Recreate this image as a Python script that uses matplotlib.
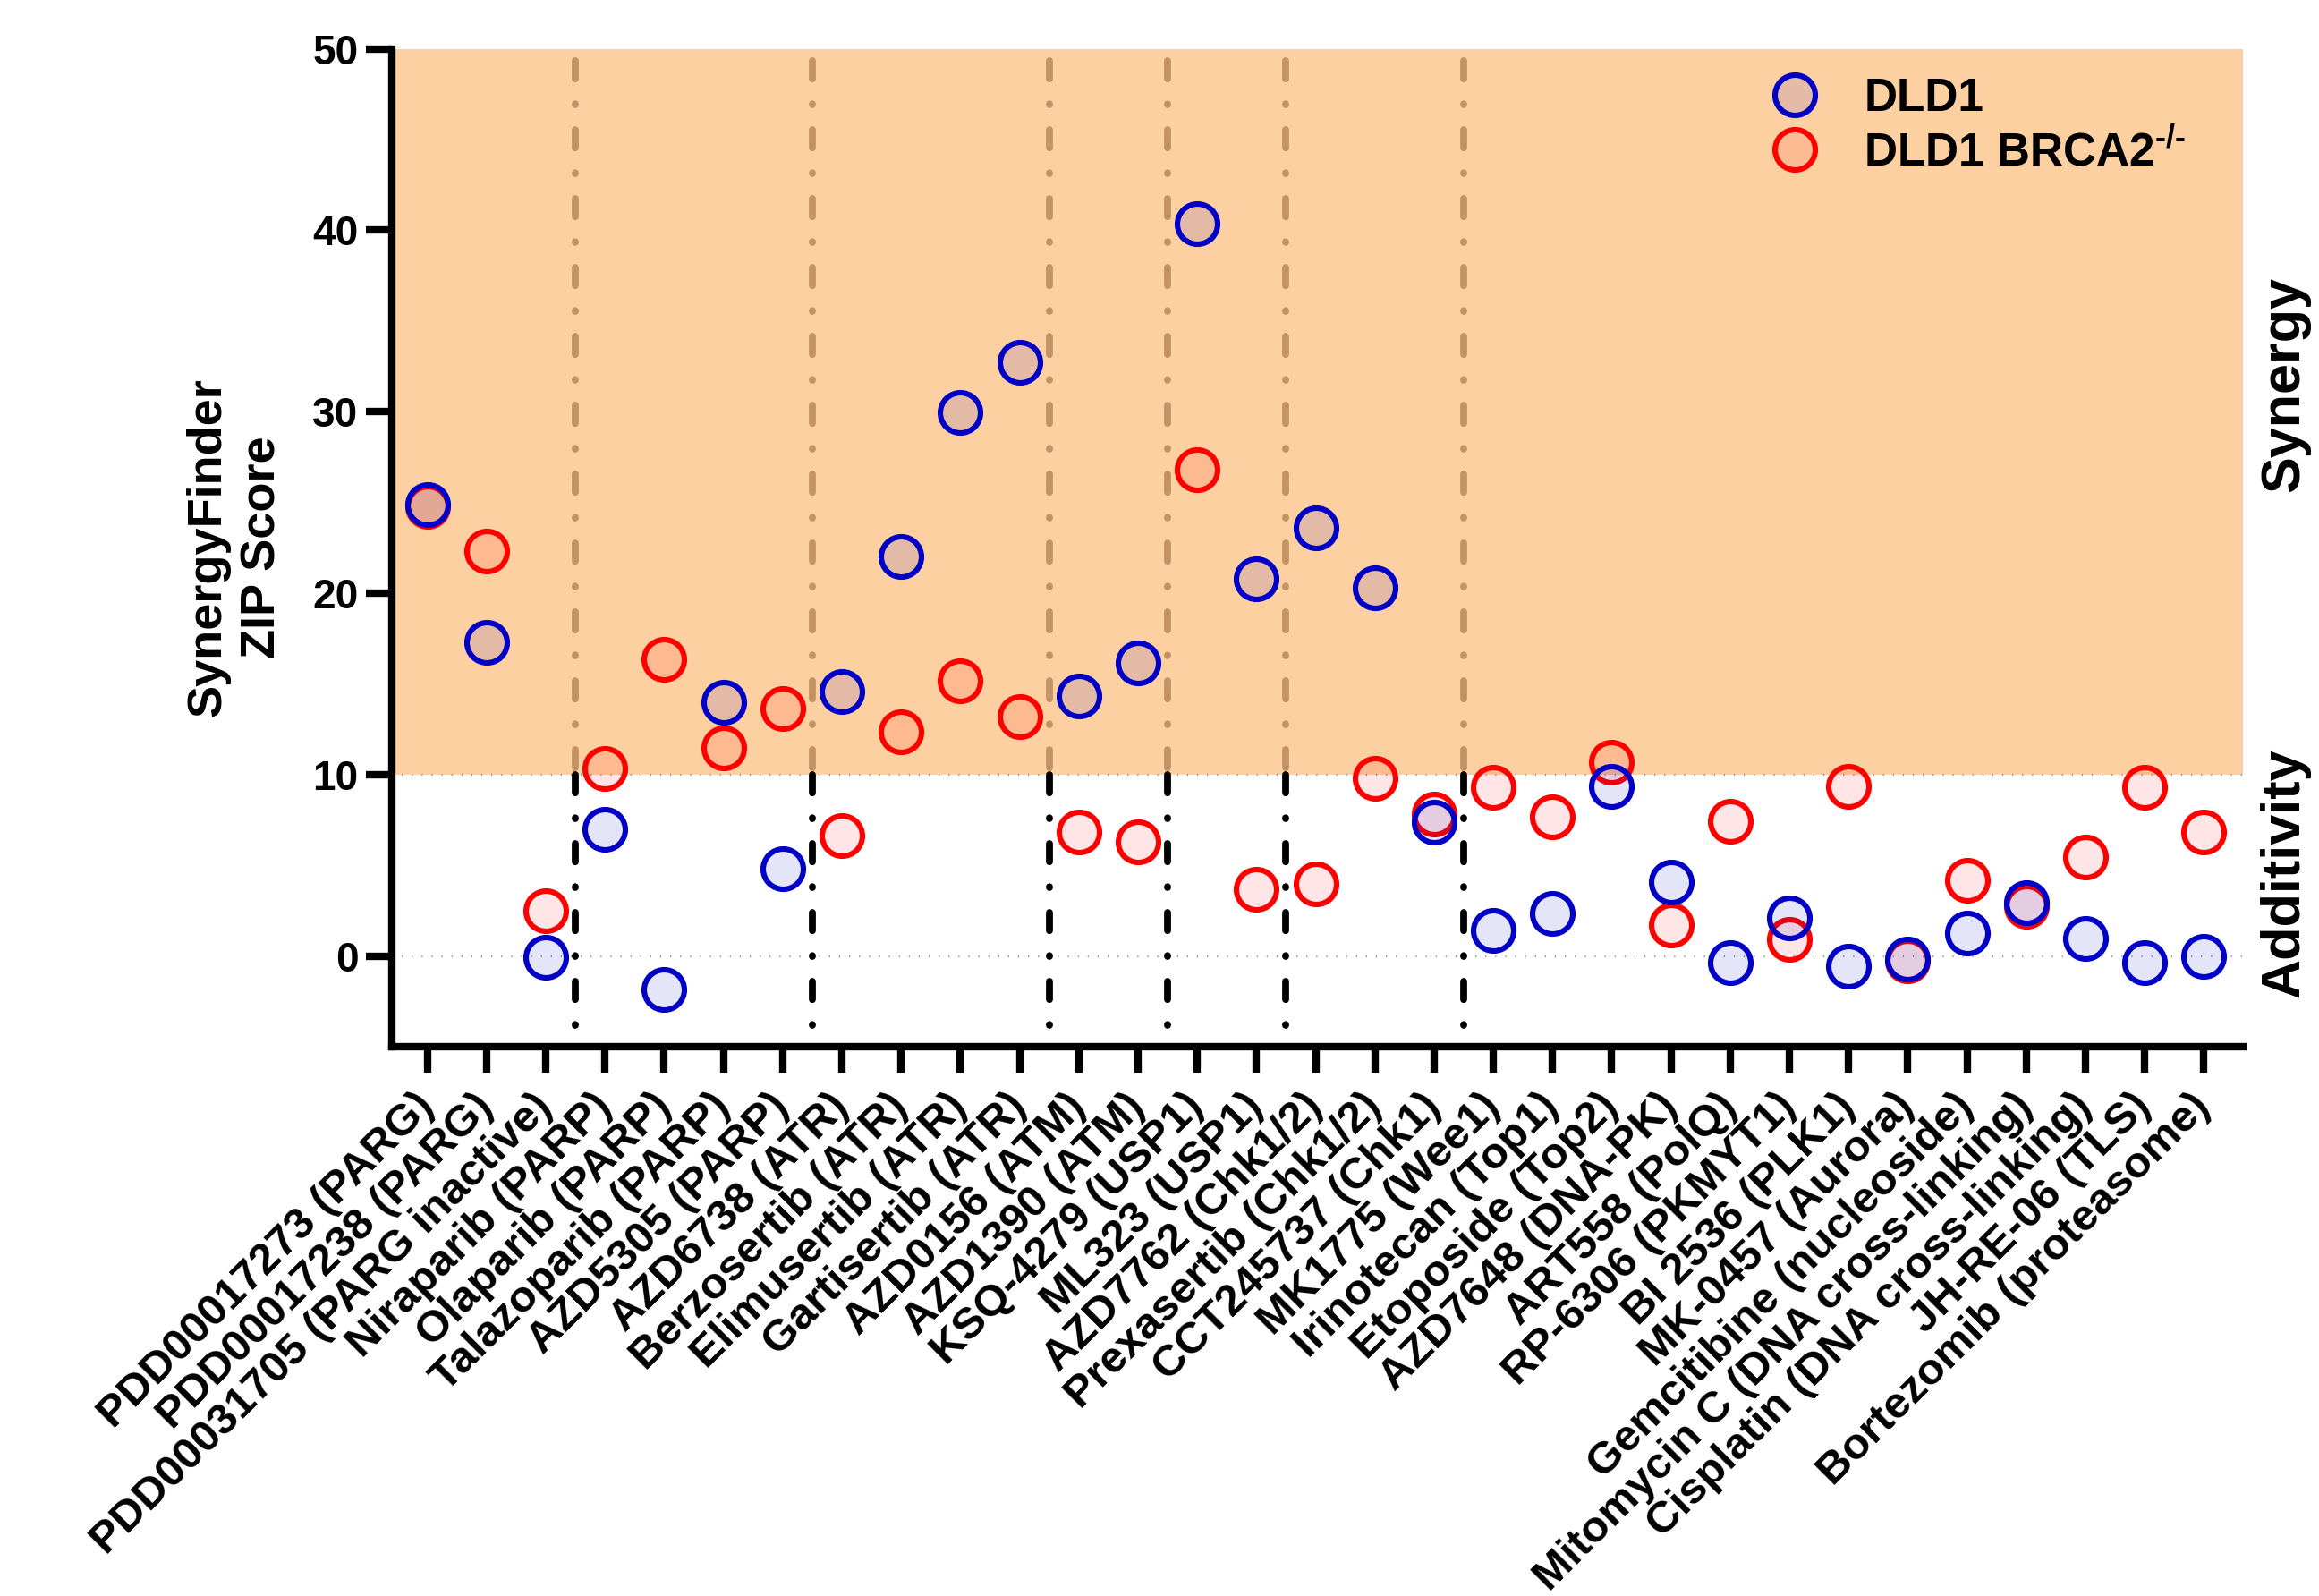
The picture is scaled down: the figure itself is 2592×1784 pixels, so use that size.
import matplotlib
matplotlib.use("Agg")
import matplotlib.pyplot as plt
from matplotlib.lines import Line2D
import matplotlib.transforms as mtransforms

# ---------------- data ----------------
drugs = [
    "PDD00017273 (PARG)", "PDD00017238 (PARG)", "PDD00031705 (PARG inactive)",
    "Niraparib (PARP)", "Olaparib (PARP)", "Talazoparib (PARP)", "AZD5305 (PARP)",
    "AZD6738 (ATR)", "Berzosertib (ATR)", "Elimusertib (ATR)", "Gartisertib (ATR)",
    "AZD0156 (ATM)", "AZD1390 (ATM)", "KSQ-4279 (USP1)", "ML323 (USP1)",
    "AZD7762 (Chk1/2)", "Prexasertib (Chk1/2)", "CCT245737 (Chk1)", "MK1775 (Wee1)",
    "Irinotecan (Top1)", "Etoposide (Top2)", "AZD7648 (DNA-PK)", "ART558 (PolQ)",
    "RP-6306 (PKMYT1)", "BI 2536 (PLK1)", "MK-0457 (Aurora)",
    "Gemcitibine (nucleoside)", "Mitomycin C (DNA cross-linking)",
    "Cisplatin (DNA cross-linking)", "JH-RE-06 (TLS)", "Bortezomib (proteasome)",
]
dld1 = [24.9, 17.3, -0.06, 7.0, -1.83, 14.0, 4.81, 14.58, 22.04, 29.96, 32.74,
        14.34, 16.15, 40.34, 20.79, 23.58, 20.28, 7.36, 1.42, 2.36, 9.34, 4.06,
        -0.38, 2.11, -0.57, -0.19, 1.26, 2.92, 0.94, -0.38, 0.0]
brca2 = [24.8, 22.32, 2.49, 10.34, 16.36, 11.47, 13.62, 6.64, 12.36, 15.19, 13.17,
         6.85, 6.28, 26.79, 3.66, 3.98, 9.81, 7.83, 9.30, 7.68, 10.66, 1.70,
         7.42, 0.91, 9.34, -0.28, 4.15, 2.74, 5.47, 9.28, 6.85]
group_boundaries = [2.5, 6.5, 10.5, 12.5, 14.5, 17.5]
synergy_threshold = 10
y_ticks = [0, 10, 20, 30, 40, 50]

# ---------------- style ----------------
plt.rcParams['font.family'] = ['Liberation Sans', 'DejaVu Sans']
plt.rcParams['font.weight'] = 'bold'
plt.rcParams['mathtext.fontset'] = 'custom'
plt.rcParams['mathtext.rm'] = 'Liberation Sans:bold'
plt.rcParams['mathtext.bf'] = 'Liberation Sans:bold'
plt.rcParams['mathtext.it'] = 'Liberation Sans:bold'

BLUE = (0.0, 0.0, 0.78)
RED = (1.0, 0.0, 0.0)
ORANGE = '#FDD0A2'
TAN = '#C39364'

fig = plt.figure(figsize=(12.96, 8.92), dpi=200)
ax = fig.add_axes([0.169, 0.3442, 0.9672 - 0.169, 0.9694 - 0.3442])

x = list(range(len(drugs)))
ax.set_xlim(-0.6, 30.66)
ax.set_ylim(-5, 50)

# synergy region
ax.axhspan(synergy_threshold, 50, color=ORANGE, zorder=0, lw=0)
# dotted reference lines
for yv in (0, synergy_threshold):
    ax.axhline(yv, color='#8f8f8f', lw=0.8, dashes=(0.5, 4.5), zorder=1)

# group separators
dash = (2.6, 3.6, 0.1, 3.6)
for b in group_boundaries:
    ax.plot([b, b], [49.35, synergy_threshold], color=TAN, lw=2.8, dashes=dash,
            dash_capstyle='round', zorder=2)
    ax.plot([b, b], [synergy_threshold, -4.0], color='black', lw=2.8, dashes=dash,
            dash_capstyle='round', zorder=2)

ms = 16.2
mew = 2.2
ax.plot(x, brca2, linestyle='none', marker='o', ms=ms, mew=mew,
        mec=RED, mfc=RED + (0.1,), zorder=3)
ax.plot(x, dld1, linestyle='none', marker='o', ms=ms, mew=mew,
        mec=BLUE, mfc=BLUE + (0.1,), zorder=4)

# axes styling
for s in ('top', 'right'):
    ax.spines[s].set_visible(False)
for s in ('left', 'bottom'):
    ax.spines[s].set_linewidth(3)
ax.spines['left'].set_bounds(-5, 50)

ax.set_yticks(y_ticks)
ax.tick_params(axis='both', which='major', length=10.5, width=3, direction='out')
ax.tick_params(axis='y', labelsize=16.5, pad=3)
ax.tick_params(axis='x', labelsize=17.8, pad=11)
ax.set_xticks(x)
ax.set_xticklabels(drugs, rotation=45, ha='right', va='center',
                   rotation_mode='anchor', fontweight='bold')
for lab in ax.get_yticklabels():
    lab.set_fontweight('bold')

fig.text(263 / 2592, 0.657, "SynergyFinder\nZIP Score", rotation=90,
         ha='center', va='center', fontsize=19.5, fontweight='bold',
         multialignment='center', linespacing=1.3)

trans = mtransforms.blended_transform_factory(ax.transAxes, ax.transData)
ax.text(1.0227, 31.5, "Synergy", rotation=90, ha='center', va='center',
        fontsize=22, fontweight='bold', transform=trans)
ax.text(1.0227, 4.6, "Additivity", rotation=90, ha='center', va='center',
        fontsize=22, fontweight='bold', transform=trans)

handles = [
    Line2D([], [], linestyle='none', marker='o', ms=ms, mew=mew, mec=BLUE,
           mfc=(0.894, 0.733, 0.65)),
    Line2D([], [], linestyle='none', marker='o', ms=ms, mew=mew, mec=RED,
           mfc=(0.99, 0.733, 0.573)),
]
leg = ax.legend(handles, ["DLD1", "DLD1 BRCA2$^{\u2010/\u2010}$"],
                loc='upper left', bbox_to_anchor=(1942 / 2592, 1 - 60 / 1784),
                bbox_transform=fig.transFigure, frameon=False,
                prop={'size': 18.5, 'weight': 'bold'}, borderpad=0,
                handlelength=1.5, handletextpad=0.75, labelspacing=0.2)

fig.savefig("out.png", dpi=200)
